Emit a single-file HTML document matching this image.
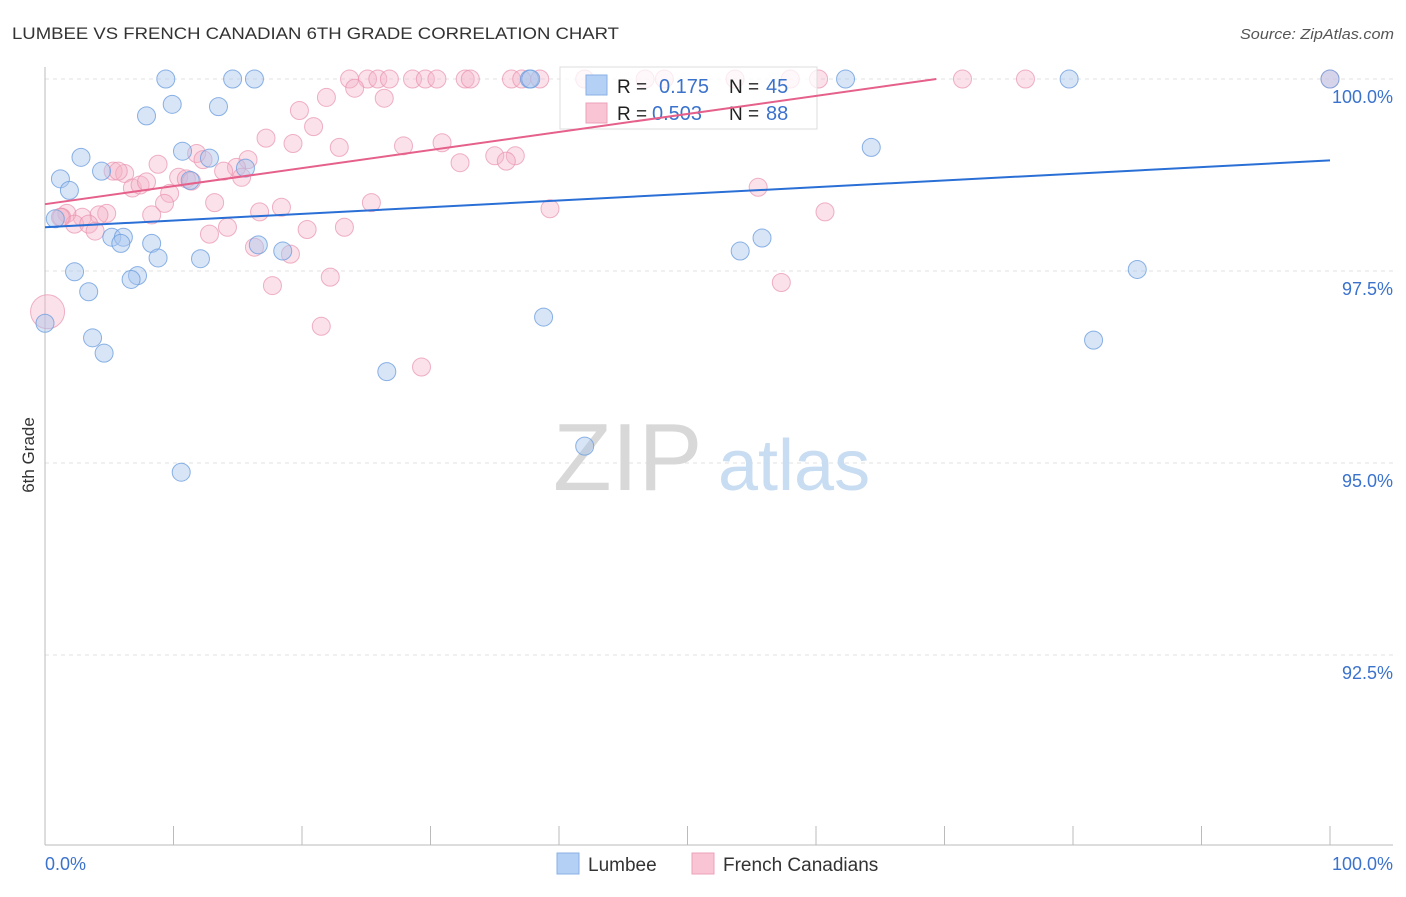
<!DOCTYPE html>
<html><head><meta charset="utf-8"><style>
body{margin:0;background:#fff;font-family:"Liberation Sans",sans-serif;}
svg text{font-family:"Liberation Sans",sans-serif;}
</style></head><body>
<svg id="chart" width="1406" height="892" xmlns="http://www.w3.org/2000/svg">
<text x="12" y="39" font-size="17" fill="#333" textLength="607" lengthAdjust="spacingAndGlyphs">LUMBEE VS FRENCH CANADIAN 6TH GRADE CORRELATION CHART</text>
<text x="1240" y="39" font-size="15" fill="#555" textLength="154" lengthAdjust="spacingAndGlyphs" font-style="italic">Source: ZipAtlas.com</text>
<g id="grid"></g>
<g><text x="553" y="490" font-size="96" fill="#d8d8d8" font-family="Liberation Serif,serif">ZIP</text><text x="718" y="490" font-size="72" fill="#c8dcf2">atlas</text></g>
<g id="pts"></g>
<g>
<rect x="560" y="67" width="257" height="62" fill="#fff" fill-opacity="0.75" stroke="#ddd"/>
<rect x="586" y="75" width="21" height="20" fill="#b4d0f4" stroke="#8ab0e4"/>
<rect x="586" y="103" width="21" height="20" fill="#f9c4d4" stroke="#eda2ba"/>
<text x="617" y="93" font-size="19" fill="#222">R = </text><text x="659" y="93" font-size="20" fill="#3a72cc">0.175</text>
<text x="729" y="93" font-size="19" fill="#222">N = </text><text x="766" y="93" font-size="20" fill="#3a72cc">45</text>
<text x="617" y="120" font-size="19" fill="#222">R = </text><text x="652" y="120" font-size="20" fill="#3a72cc">0.503</text>
<text x="729" y="120" font-size="19" fill="#222">N = </text><text x="766" y="120" font-size="20" fill="#3a72cc">88</text>
</g>
<g id="lines"></g>
<text transform="translate(34,455) rotate(-90)" font-size="17" fill="#333" text-anchor="middle">6th Grade</text>
<g>
<rect x="557" y="853" width="22" height="21" fill="#b4d0f4" stroke="#8ab0e4"/>
<text x="588" y="871" font-size="19" fill="#333">Lumbee</text>
<rect x="692" y="853" width="22" height="21" fill="#f9c4d4" stroke="#eda2ba"/>
<text x="723" y="871" font-size="19" fill="#333">French Canadians</text>
</g>
</svg>
<script>
const yTicks=[100,97.5,95,92.5];
const yTickLabels=["100.0%","97.5%","95.0%","92.5%"];
const blueX=[9.4,14.6,16.3,37.7,62.3,79.7,100,9.9,13.5,7.9,2.8,10.7,12.8,4.4,1.2,1.9,11.3,15.6,0.8,5.2,6.1,5.9,8.3,16.6,18.5,8.8,12.1,2.3,7.2,6.7,3.4,0,3.7,4.6,26.6,38.8,10.6,42.0,64.3,54.1,55.8,85.0,81.6,37.8];
const blueY=[100,100,100,100,100,100,100,99.67,99.64,99.52,98.98,99.06,98.97,98.80,98.70,98.55,98.68,98.84,98.18,97.94,97.94,97.86,97.86,97.84,97.76,97.67,97.66,97.49,97.44,97.39,97.23,96.82,96.63,96.43,96.19,96.9,94.88,95.22,99.11,97.76,97.93,97.52,96.6,100];
const pinkX=[0.2,23.7,25.1,25.9,26.8,28.6,29.6,30.5,32.7,33.1,36.3,37.1,38.5,42.0,46.7,48.2,53.7,58.0,60.2,71.4,76.3,100,24.1,26.4,21.9,19.8,20.9,17.2,19.3,22.9,27.9,30.9,35.0,36.6,35.9,32.3,11.8,12.3,15.8,14.9,13.9,15.3,8.8,5.3,6.2,5.7,6.8,7.4,7.9,10.4,11.0,11.4,9.7,9.3,13.2,16.7,18.4,25.4,39.3,60.7,55.5,8.3,4.8,4.2,2.9,1.7,1.3,2.3,3.4,3.9,12.8,14.2,20.4,23.3,16.3,19.1,17.7,22.2,21.5,29.3,57.3,1.2];
const pinkY=[96.97,100,100,100,100,100,100,100,100,100,100,100,100,100,100,100,100,100,100,100,100,100,99.88,99.75,99.76,99.59,99.38,99.23,99.16,99.11,99.13,99.17,99.0,99.0,98.93,98.91,99.03,98.95,98.95,98.85,98.80,98.72,98.89,98.80,98.77,98.80,98.58,98.62,98.66,98.72,98.70,98.67,98.51,98.38,98.39,98.27,98.33,98.39,98.31,98.27,98.59,98.23,98.25,98.23,98.20,98.25,98.20,98.11,98.11,98.02,97.98,98.07,98.04,98.07,97.81,97.72,97.31,97.42,96.78,96.25,97.35,98.2];
const blueTrend=[98.07,98.94];
const pinkTrend=[98.37,100.72];
const NS="http://www.w3.org/2000/svg";
const X=v=>45+v*12.85, Y=v=>79+(100-v)*76.8;
const g=document.getElementById('grid');
function mk(tag,at,parent){const e=document.createElementNS(NS,tag);for(const k in at)e.setAttribute(k,at[k]);parent.appendChild(e);return e;}
yTicks.forEach((t,i)=>{
 const l=mk('line',{x1:45,x2:1393,y1:Y(t),y2:Y(t),stroke:'#e2e2e2','stroke-dasharray':'4,4'},g);
 
 
 const tx=mk('text',{x:1393,y:Y(t)+24,'font-size':18,fill:'#3a72cc','text-anchor':'end'},g);
 tx.textContent=yTickLabels[i];
 
 
});
mk('line',{x1:45,x2:45,y1:67,y2:845,stroke:'#bbb'},g);
mk('line',{x1:45,x2:1393,y1:845,y2:845,stroke:'#bbb'},g);
for(let i=0;i<=10;i++){const t=mk('line',{x1:X(i*10),x2:X(i*10),y1:826,y2:845,stroke:'#bbb'},g);
 
 }
const x0=mk('text',{x:45,y:870,'font-size':18,fill:'#3a72cc'},g);x0.textContent='0.0%';


const x1=mk('text',{x:1393,y:870,'font-size':18,fill:'#3a72cc','text-anchor':'end'},g);x1.textContent='100.0%';


const p=document.getElementById('pts');
pinkX.forEach((v,i)=>{const c=mk('circle',{cx:X(v),cy:Y(pinkY[i]),r:i===0?17:9,fill:'#f5b3c8','fill-opacity':0.4,stroke:'#e892ae','stroke-opacity':0.7},p);
 
 });
blueX.forEach((v,i)=>{const c=mk('circle',{cx:X(v),cy:Y(blueY[i]),r:9,fill:'#a8c6ee','fill-opacity':0.45,stroke:'#6e9fdf','stroke-opacity':0.8},p);
 
 });
const L=document.getElementById('lines');
const bl=mk('line',{x1:X(0),y1:Y(blueTrend[0]),x2:X(100),y2:Y(blueTrend[1]),stroke:'#2a6fd6','stroke-width':2},L);


const xe=(100-pinkTrend[0])/(pinkTrend[1]-pinkTrend[0])*100;
const pl=mk('line',{x1:X(0),y1:Y(pinkTrend[0]),x2:X(xe),y2:Y(100),stroke:'#e5608a','stroke-width':2},L);


</script>
</body></html>
